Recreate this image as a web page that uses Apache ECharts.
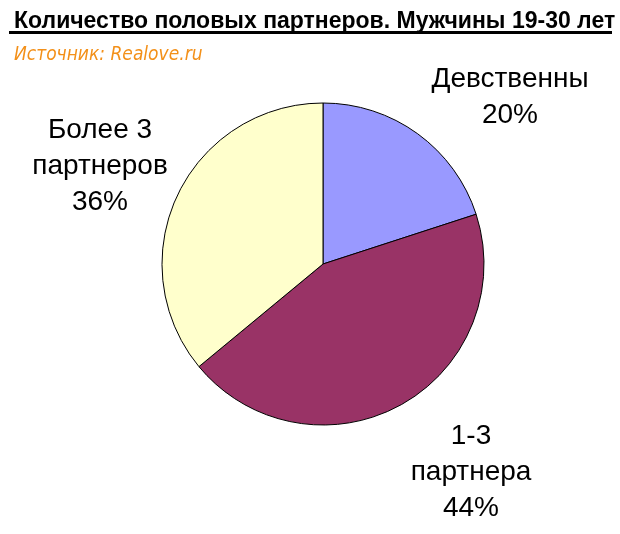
<!DOCTYPE html>
<html><head><meta charset="utf-8">
<script src="https://cdn.jsdelivr.net/npm/echarts@6/dist/echarts.min.js"></script>
<style>html,body{margin:0;padding:0;background:#fff}#c{width:620px;height:534px}</style>
</head><body><div id="c"></div>
<script>
var titleText = 'Количество половых партнеров. Мужчины 19-30 лет';
var sourceText = 'Источник: Realove.ru';
var categories = ['Девственны', '1-3\nпартнера', 'Более 3\nпартнеров'];
var values = [20, 44, 36];
var colors = ['#9999FF', '#993366', '#FFFFCC'];

var labelPos = [[510, 97], [471, 472], [100, 166]];

var chart = echarts.init(document.getElementById('c'), null, {renderer: 'canvas'});
chart.setOption({
  backgroundColor: '#ffffff',
  animation: false,
  title: [{
    text: titleText, left: 9, top: 5,
    textStyle: {fontFamily: 'Liberation Sans', fontWeight: 'bold', fontSize: 23, color: '#000'}
  }, {
    text: sourceText, left: 9, top: 41,
    textStyle: {fontFamily: '"DejaVu Sans Condensed", "Liberation Sans"', fontStyle: 'italic', fontWeight: 'normal', fontSize: 19, color: '#F39019'}
  }],
  graphic: [{type: 'rect', shape: {x: 9, y: 31, width: 603, height: 3}, style: {fill: '#000'}}],
  series: [{
    type: 'pie',
    center: [323, 264],
    radius: [0, 161],
    startAngle: 90,
    clockwise: true,
    data: categories.map(function (c, i) { return {name: c, value: values[i], itemStyle: {color: colors[i]}}; }),
    itemStyle: {borderColor: '#000', borderWidth: 1},
    label: {
      show: true,
      formatter: '{b}\n{d}%',
      overflow: 'none',
      fontFamily: 'Liberation Sans', fontSize: 28, lineHeight: 36, color: '#000', align: 'center'
    },
    labelLine: {show: false},
    labelLayout: function (p) {
      var pos = labelPos[p.dataIndex];
      return {x: pos[0], y: pos[1], align: 'center', verticalAlign: 'middle'};
    },
    emphasis: {disabled: true}
  }]
});
</script></body></html>
